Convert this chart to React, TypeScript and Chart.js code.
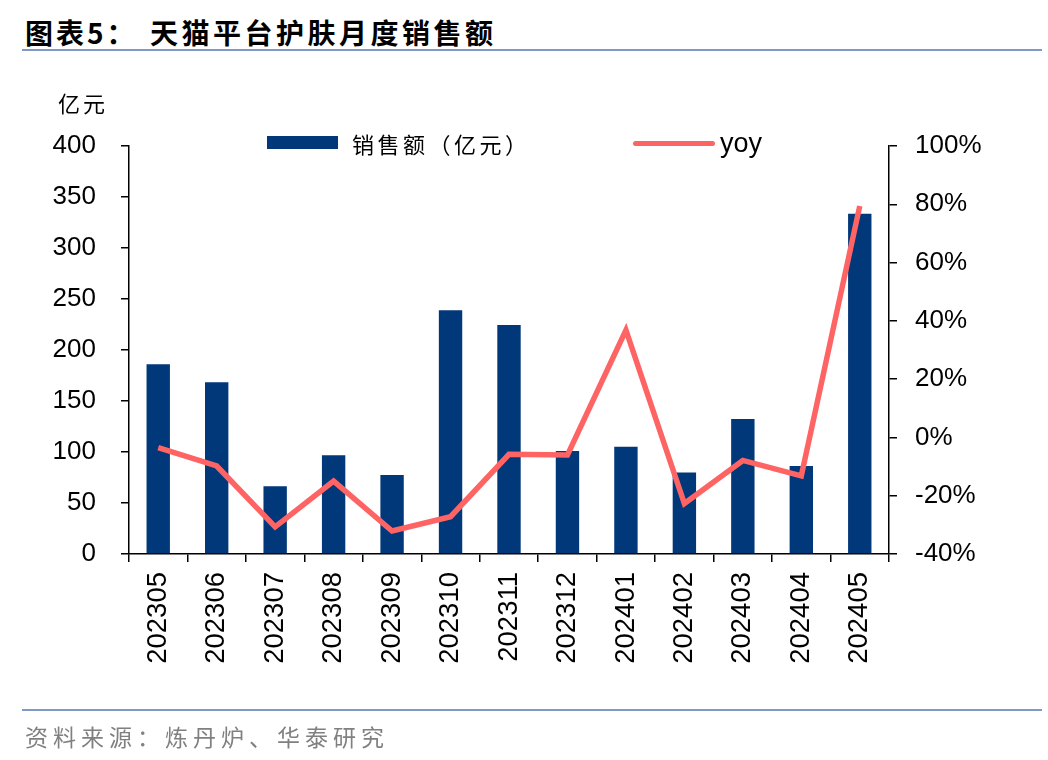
import React, { useEffect, useRef } from "react";
import { Chart, registerables } from "chart.js";

Chart.register(...registerables);

const categories = ["202305", "202306", "202307", "202308", "202309", "202310", "202311", "202312", "202401", "202402", "202403", "202404", "202405"];
const salesValues = [186, 168.5, 66.4, 96.7, 77.5, 239, 224.5, 101, 105.2, 80, 132.4, 86.3, 333.5];
const yoyValues = [-3.5, -9.8, -30.7, -15, -32.1, -27.2, -5.8, -6.0, 36.8, -22.7, -7.9, -13.2, 79.4];
const leftTicks = { min: 0, max: 400, step: 50 };
const rightTicks = { min: -40, max: 100, step: 20 };

const BAR_COLOR = "#00387A";
const LINE_COLOR = "#FF6464";
const RULE_COLOR = "#7F9AC4";
const NUM_FONT = "'Liberation Sans', Arial, sans-serif";
const CJK_FONT = "'Noto Sans CJK SC', sans-serif";

export default function App() {
  const ref = useRef<HTMLCanvasElement | null>(null);

  useEffect(() => {
    if (!ref.current) return;
    const chart = new Chart(ref.current, {
      data: {
        labels: categories,
        datasets: [
          {
            type: "line" as const,
            label: "yoy",
            data: yoyValues,
            yAxisID: "y1",
            borderColor: LINE_COLOR,
            backgroundColor: LINE_COLOR,
            borderWidth: 5.5,
            pointRadius: 0,
            tension: 0,
            order: 0,
          },
          {
            type: "bar" as const,
            label: "销售额（亿元）",
            data: salesValues,
            yAxisID: "y",
            backgroundColor: BAR_COLOR,
            categoryPercentage: 1,
            barPercentage: 0.4,
            order: 1,
          },
        ],
      },
      options: {
        responsive: false,
        animation: false,
        layout: { padding: { top: 146, left: 0, right: 0, bottom: 0 } },
        plugins: { legend: { display: false }, tooltip: { enabled: false } },
        scales: {
          x: {
            type: "category",
            grid: { offset: true, drawOnChartArea: false, tickLength: 8, color: "#000", lineWidth: 1.5 },
            border: { color: "#000", width: 1.5 },
            ticks: {
              minRotation: 90,
              maxRotation: 90,
              autoSkip: false,
              padding: 10,
              color: "#000",
              font: { family: NUM_FONT, size: 27.5 },
            },
            afterFit: (s: any) => {
              s.height = 206;
            },
          },
          y: {
            position: "left",
            min: leftTicks.min,
            max: leftTicks.max,
            grid: { drawOnChartArea: false, tickLength: 8, color: "#000", lineWidth: 1.5 },
            border: { color: "#000", width: 1.5 },
            ticks: {
              stepSize: leftTicks.step,
              padding: 25,
              color: "#000",
              font: { family: NUM_FONT, size: 26 },
            },
            afterFit: (s: any) => {
              s.width = 129;
            },
          },
          y1: {
            position: "right",
            min: rightTicks.min,
            max: rightTicks.max,
            grid: { drawOnChartArea: false, tickLength: 8, color: "#000", lineWidth: 1.5 },
            border: { color: "#000", width: 1.5 },
            ticks: {
              stepSize: rightTicks.step,
              padding: 18,
              color: "#000",
              font: { family: NUM_FONT, size: 26 },
              callback: (v: any) => `${v}%`,
            },
            afterFit: (s: any) => {
              s.width = 159;
            },
          },
        },
      },
    });
    return () => chart.destroy();
  }, []);

  return (
    <div style={{ position: "fixed", left: 0, top: 0, width: 1048, height: 760, background: "#fff", overflow: "hidden" }}>
      <div style={{ position: "absolute", left: 25, top: 12, fontFamily: CJK_FONT, fontWeight: 700, fontSize: 28, letterSpacing: 3, lineHeight: "40px", color: "#000", whiteSpace: "pre" }}>
        {"图表5："}
      </div>
      <div style={{ position: "absolute", left: 150, top: 12, fontFamily: CJK_FONT, fontWeight: 700, fontSize: 28, letterSpacing: 3.5, lineHeight: "40px", color: "#000", whiteSpace: "pre" }}>
        {"天猫平台护肤月度销售额"}
      </div>
      <div style={{ position: "absolute", left: 22, top: 49, width: 1020, height: 2, background: RULE_COLOR }} />
      <canvas ref={ref} width={1048} height={760} style={{ position: "absolute", left: 0, top: 0 }} />
      <div style={{ position: "absolute", left: 58, top: 86, fontFamily: CJK_FONT, fontSize: 22, letterSpacing: 3, lineHeight: "32px", color: "#000" }}>
        亿元
      </div>
      <div style={{ position: "absolute", left: 267, top: 136, width: 71, height: 13, background: BAR_COLOR }} />
      <div style={{ position: "absolute", left: 352, top: 127, fontFamily: CJK_FONT, fontSize: 22, letterSpacing: 3.5, lineHeight: "32px", color: "#000", whiteSpace: "pre" }}>
        销售额（亿元）
      </div>
      <div style={{ position: "absolute", left: 633, top: 141, width: 82, height: 5, borderRadius: 3, background: LINE_COLOR }} />
      <div style={{ position: "absolute", left: 720, top: 127, fontFamily: NUM_FONT, fontSize: 27, lineHeight: "32px", color: "#000" }}>
        yoy
      </div>
      <div style={{ position: "absolute", left: 22, top: 709, width: 1020, height: 2, background: RULE_COLOR }} />
      <div style={{ position: "absolute", left: 25, top: 720, fontFamily: CJK_FONT, fontSize: 23, letterSpacing: 5, lineHeight: "32px", color: "#808080", whiteSpace: "pre" }}>
        资料来源：炼丹炉、华泰研究
      </div>
    </div>
  );
}
